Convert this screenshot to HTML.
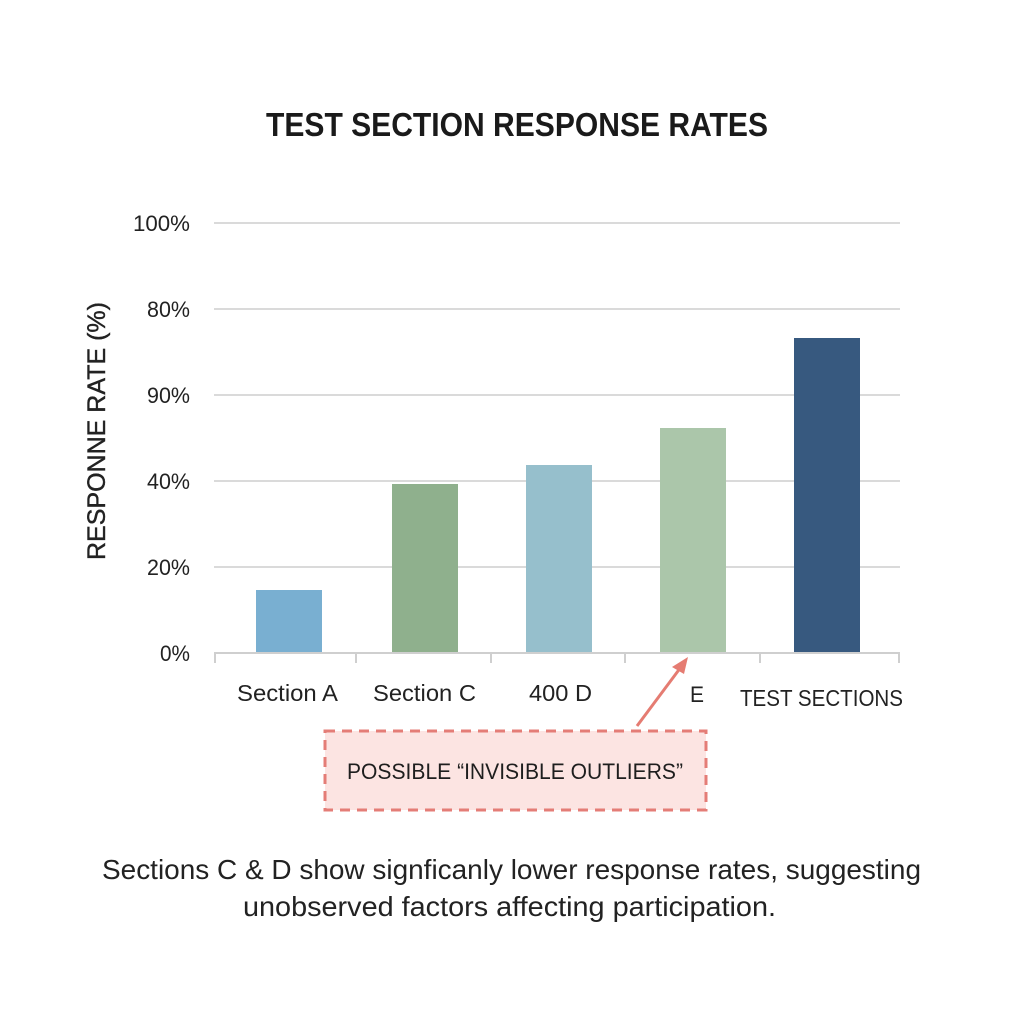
<!DOCTYPE html>
<html>
<head>
<meta charset="utf-8">
<style>
  html,body{margin:0;padding:0;background:#ffffff;}
  svg{display:block;}
  text{font-family:"Liberation Sans", "DejaVu Sans", sans-serif;}
</style>
</head>
<body>
<svg width="1024" height="1024" viewBox="0 0 1024 1024" xmlns="http://www.w3.org/2000/svg">
  <rect x="0" y="0" width="1024" height="1024" fill="#ffffff"/>

  <!-- Title -->
  <text x="266" y="136" font-size="33" font-weight="bold" fill="#1a1a1a" textLength="502" lengthAdjust="spacingAndGlyphs">TEST SECTION RESPONSE RATES</text>

  <!-- Gridlines -->
  <g stroke="#dadada" stroke-width="2">
    <line x1="214" y1="223" x2="900" y2="223"/>
    <line x1="214" y1="309" x2="900" y2="309"/>
    <line x1="214" y1="395" x2="900" y2="395"/>
    <line x1="214" y1="481" x2="900" y2="481"/>
    <line x1="214" y1="567" x2="900" y2="567"/>
  </g>

  <!-- Y tick labels -->
  <g font-size="22" fill="#222">
    <text x="133" y="231" textLength="57" lengthAdjust="spacingAndGlyphs">100%</text>
    <text x="147" y="317" textLength="43" lengthAdjust="spacingAndGlyphs">80%</text>
    <text x="147" y="403" textLength="43" lengthAdjust="spacingAndGlyphs">90%</text>
    <text x="147" y="489" textLength="43" lengthAdjust="spacingAndGlyphs">40%</text>
    <text x="147" y="575" textLength="43" lengthAdjust="spacingAndGlyphs">20%</text>
    <text x="160" y="661" textLength="30" lengthAdjust="spacingAndGlyphs">0%</text>
  </g>

  <!-- Y axis title -->
  <text transform="translate(105,431) rotate(-90)" x="0" y="0" font-size="25" font-weight="500" fill="#222" stroke="#222" stroke-width="0.4" text-anchor="middle" textLength="258" lengthAdjust="spacingAndGlyphs">RESPONNE RATE (%)</text>

  <!-- Bars -->
  <rect x="256" y="590" width="66" height="63" fill="#79afd1"/>
  <rect x="392" y="484" width="66" height="169" fill="#8fb08d"/>
  <rect x="526" y="465" width="66" height="188" fill="#96bfcc"/>
  <rect x="660" y="428" width="66" height="225" fill="#abc6aa"/>
  <rect x="794" y="338" width="66" height="315" fill="#37597f"/>

  <!-- Baseline and ticks -->
  <g stroke="#cfcfcf" stroke-width="2">
    <line x1="214" y1="653" x2="900" y2="653"/>
    <line x1="215" y1="653" x2="215" y2="663"/>
    <line x1="356" y1="653" x2="356" y2="663"/>
    <line x1="491" y1="653" x2="491" y2="663"/>
    <line x1="625" y1="653" x2="625" y2="663"/>
    <line x1="760" y1="653" x2="760" y2="663"/>
    <line x1="899" y1="653" x2="899" y2="663"/>
  </g>

  <!-- X labels -->
  <g font-size="23" fill="#222">
    <text x="237" y="701" textLength="101" lengthAdjust="spacingAndGlyphs">Section A</text>
    <text x="373" y="701" textLength="103" lengthAdjust="spacingAndGlyphs">Section C</text>
    <text x="529" y="701" textLength="63" lengthAdjust="spacingAndGlyphs">400 D</text>
    <text x="690" y="702" font-size="22" textLength="14" lengthAdjust="spacingAndGlyphs">E</text>
    <text x="740" y="706" textLength="163" lengthAdjust="spacingAndGlyphs">TEST SECTIONS</text>
  </g>

  <!-- Annotation box -->
  <rect x="325" y="731" width="381" height="79" fill="#fce4e2" stroke="#e47d77" stroke-width="3" stroke-dasharray="10 7"/>
  <text x="347" y="779" font-size="22" fill="#1e1e1e" textLength="336" lengthAdjust="spacingAndGlyphs">POSSIBLE “INVISIBLE OUTLIERS”</text>

  <!-- Arrow -->
  <line x1="637" y1="726" x2="681" y2="667" stroke="#e57c72" stroke-width="3"/>
  <polygon points="688,657 672,667 684,674" fill="#e57c72"/>

  <!-- Caption -->
  <g font-size="28" fill="#222">
    <text x="102" y="879" textLength="819" lengthAdjust="spacingAndGlyphs">Sections C &amp; D show signficanly lower response rates, suggesting</text>
    <text x="243" y="916" textLength="533" lengthAdjust="spacingAndGlyphs">unobserved factors affecting participation.</text>
  </g>
</svg>
</body>
</html>
